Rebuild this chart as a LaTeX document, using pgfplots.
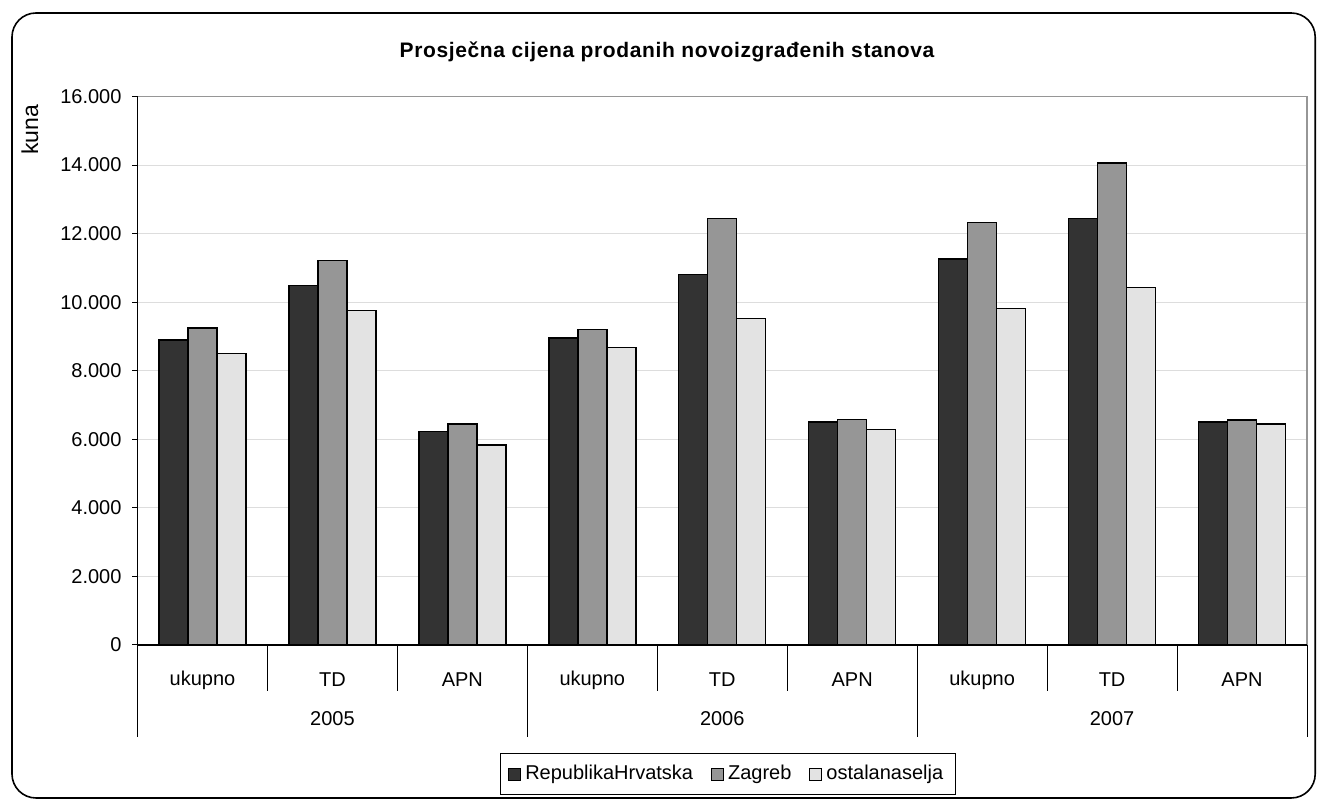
\documentclass[border=0pt]{standalone}
\usepackage{pgfplots}
\pgfplotsset{compat=1.18}
\usepackage{fontspec}
\setmainfont{Liberation Sans}
\definecolor{cA}{HTML}{333333}
\definecolor{cB}{HTML}{969696}
\definecolor{cC}{HTML}{E3E3E3}
\definecolor{gridc}{HTML}{DDDDDD}
\newcommand{\tfont}{\fontsize{10}{12}\selectfont}
\begin{document}
\begin{tikzpicture}[x=1pt,y=1pt]
\useasboundingbox (0,0) rectangle (658.5,400.5);
\draw[line width=0.8pt, rounded corners=12pt] (6,1.5) rectangle (657.6,394);
\node[font=\bfseries\fontsize{10.5}{12}\selectfont\addfontfeatures{LetterSpace=3}] at (333.5,374.5) {Prosječna cijena prodanih novoizgrađenih stanova};
\node[font=\fontsize{11.5}{13}\selectfont, rotate=90] at (15,335.5) {kuna};
\begin{axis}[
  at={(68.75pt,78pt)}, anchor=south west,
  scale only axis, width=584.75pt, height=274.25pt,
  ymin=0, ymax=16000, xmin=-0.5, xmax=8.5,
  ytick={0,2000,...,16000},
  ytick pos=left,
  scaled y ticks=false,
  /pgf/number format/1000 sep={.},
  /pgf/number format/assume math mode=true,
  yticklabel style={xshift=-2pt},
  ymajorgrids, grid style={draw=gridc, line width=0.5pt},
  xtick={0,...,8},
  xticklabels={ukupno,TD,APN,ukupno,TD,APN,ukupno,TD,APN},
  x tick style={draw=none},
  xticklabel style={anchor=center, yshift=-15pt},
  tick label style={font=\tfont},
  y tick style={draw=black, line width=0.5pt},
  tick align=outside, major tick length=2.5pt,
  axis line style={draw=cB, line width=0.8pt},
  clip=false,
  ybar=0pt, bar width=14.5pt,
  legend columns=3,
  legend style={at={(0.5047,-0.2354)}, anchor=center, draw=black, line width=0.5pt,
    font=\tfont, inner xsep=4pt, inner ysep=4pt,
    /tikz/every even column/.append style={column sep=7pt}},
]
\addplot[fill=cA, draw=black, line width=0.7pt,
  legend image code/.code={\draw[fill=cA,draw=black,line width=0.5pt] (0pt,-3pt) rectangle (6pt,3pt);}]
  coordinates {(0,8900) (1,10480) (2,6220) (3,8960) (4,10810) (5,6500) (6,11260) (7,12440) (8,6500)};
\addplot[fill=cB, draw=black, line width=0.7pt,
  legend image code/.code={\draw[fill=cB,draw=black,line width=0.5pt] (0pt,-3pt) rectangle (6pt,3pt);}]
  coordinates {(0,9250) (1,11210) (2,6450) (3,9200) (4,12440) (5,6570) (6,12320) (7,14060) (8,6560)};
\addplot[fill=cC, draw=black, line width=0.7pt,
  legend image code/.code={\draw[fill=cC,draw=black,line width=0.5pt] (0pt,-3pt) rectangle (6pt,3pt);}]
  coordinates {(0,8500) (1,9750) (2,5830) (3,8680) (4,9530) (5,6280) (6,9810) (7,10420) (8,6450)};
\legend{RepublikaHrvatska, Zagreb, ostalanaselja}
\draw[black, line width=0.8pt] (rel axis cs:0,1) -- (rel axis cs:0,0) -- (rel axis cs:1,0);
\pgfplotsinvokeforeach{0.5,1.5,3.5,4.5,6.5,7.5}{
  \draw[black, line width=0.5pt] (axis cs:#1,0) -- ++(0pt,-23pt);
}
\pgfplotsinvokeforeach{-0.5,2.5,5.5,8.5}{
  \draw[black, line width=0.5pt] (axis cs:#1,0) -- ++(0pt,-46pt);
}
\node[font=\tfont] at ([yshift=-37pt]axis cs:1,0) {2005};
\node[font=\tfont] at ([yshift=-37pt]axis cs:4,0) {2006};
\node[font=\tfont] at ([yshift=-37pt]axis cs:7,0) {2007};
\end{axis}
\end{tikzpicture}
\end{document}
